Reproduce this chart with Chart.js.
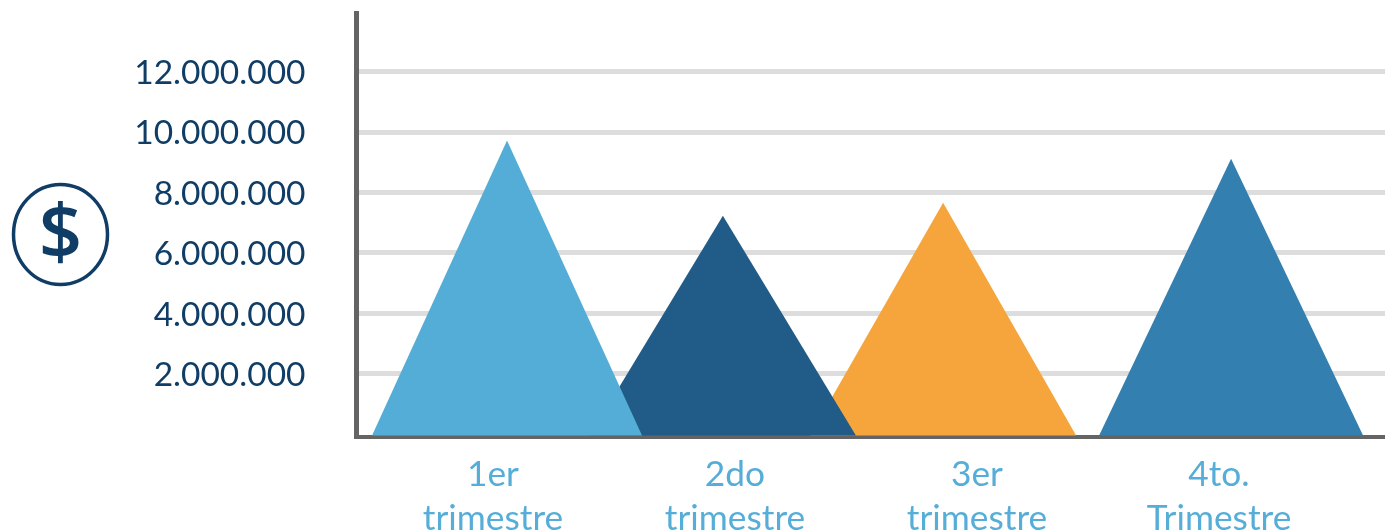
<!DOCTYPE html>
<html>
<head>
<meta charset="utf-8">
<style>html,body{margin:0;padding:0;background:#fff;overflow:hidden}canvas{display:block}</style>
<script src="https://cdn.jsdelivr.net/npm/chart.js@4"></script>
</head>
<body>
<canvas id="c" width="1385" height="531"></canvas>
<script>
const categories = [["1er","trimestre"],["2do","trimestre"],["3er","trimestre"],["4to.","Trimestre"]];
const categoryTicks = [1,2,3,4];
const values = [9720000,7230000,7660000,9120000];
const peakPositions = [1.058,1.950,2.860,4.050];
const yTickValues = [2000000,4000000,6000000,8000000,10000000,12000000];
const colors = ["#54ADD6","#215B87","#F6A53C","#337FAF"];
const baseWidths = [270,266,266,264];

const fontFamily = "Lato, 'Open Sans', sans-serif";

Chart.BarElement.prototype.draw = function(ctx){
  const {x,y,base,width} = this.getProps(['x','y','base','width']);
  ctx.save();
  ctx.fillStyle = this.options.backgroundColor;
  ctx.beginPath();
  ctx.moveTo(x-width/2,base);
  ctx.lineTo(x,y);
  ctx.lineTo(x+width/2,base);
  ctx.closePath();
  ctx.fill();
  ctx.restore();
};

const dollarIcon = {
  id:'dollarIcon',
  afterDraw(chart){
    const ctx = chart.ctx;
    ctx.save();
    ctx.strokeStyle = "#0F3D66";
    ctx.lineWidth = 3.5;
    ctx.beginPath();
    ctx.ellipse(60.5,234.5,47,50,0,0,Math.PI*2);
    ctx.stroke();
    ctx.fillStyle = "#0F3D66";
    ctx.font = "600 76px 'Open Sans', sans-serif";
    ctx.textAlign = "center";
    ctx.textBaseline = "middle";
    ctx.fillText("$",60.5,236);
    ctx.restore();
  }
};

new Chart(document.getElementById('c'),{
  type:'bar',
  data:{
    datasets: values.map((v,i)=>({
      data:[{x:peakPositions[i],y:v}],
      backgroundColor:colors[i],
      barThickness:baseWidths[i],
      base:-46000
    }))
  },
  options:{
    responsive:false,
    animation:false,
    devicePixelRatio:1,
    grouped:false,
    layout:{padding:{top:13.5,left:0,right:0,bottom:0}},
    plugins:{legend:{display:false},tooltip:{enabled:false}},
    scales:{
      x:{
        type:'linear',
        offset:false,
        min:0.436,
        max:4.686,
        grid:{display:false,offset:false},
        border:{display:true,color:"#646464",width:4},
        afterBuildTicks(s){s.ticks = categoryTicks.map(v=>({value:v}));},
        afterFit(s){s.height = 94.4;s.paddingLeft=0;s.paddingRight=0;s.paddingTop=0;s.paddingBottom=0;},
        ticks:{
          autoSkip:false,
          maxRotation:0,
          padding:8,
          color:"#56AED8",
          font:{family:fontFamily,size:35.3,lineHeight:1.25},
          callback:(v)=>categories[categoryTicks.indexOf(v)]
        }
      },
      y:{
        min:-85000,
        max:13930000,
        grid:{color:"#DDDDDD",lineWidth:5,drawTicks:false},
        border:{display:true,color:"#646464",width:5},
        afterBuildTicks(s){s.ticks = yTickValues.map(v=>({value:v}));},
        afterFit(s){
          s.width = 356.5;s.paddingTop=0;s.paddingBottom=0;s.paddingLeft=0;s.paddingRight=0;
          const computeItems = Object.getPrototypeOf(s)._computeLabelItems;
          s._computeLabelItems = function(area){
            const items = computeItems.call(this,area);
            items.forEach(it=>{it.options.translation[1]+=1.5;});
            return items;
          };
        },
        ticks:{
          autoSkip:false,
          padding:51,
          color:"#0F3D66",
          font:{family:fontFamily,size:33.5},
          callback:(v)=>String(v).replace(/\B(?=(\d{3})+$)/g,".")
        }
      }
    }
  },
  plugins:[dollarIcon]
});
</script>
</body>
</html>
